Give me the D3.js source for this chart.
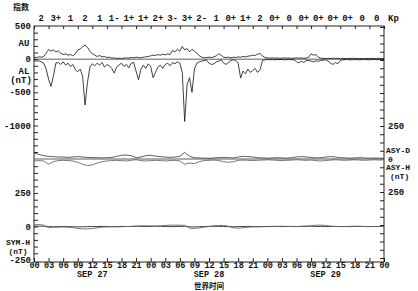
<!DOCTYPE html>
<html>
<head>
<meta charset="utf-8">
<script src="https://cdn.jsdelivr.net/npm/d3@7"></script>
<style>
body { margin: 0; background: #fff; }
text { font-family: "Liberation Mono", "DejaVu Sans Mono", monospace; font-weight: bold; fill: #111; }
.cjk { font-family: "Noto Sans CJK SC", sans-serif; }
</style>
</head>
<body>
<div id="chart"></div>
<script>
// Kp index per 3 hours, Sep 27 00UT .. Sep 30 00UT
var kp = ["2","3+","1","2","1","1-","1+","1+","2+","3-","3+","2-","1","0+","1+","2","0+","0","0+","0+","0+","0+","0","0"];

// AU / AL every 30 min (nT)
var au = [30,25,35,30,40,90,145,120,140,110,125,90,70,80,60,70,50,80,140,150,190,210,180,120,
  80,60,40,55,35,40,25,30,15,20,10,15,10,15,20,15,25,20,30,25,20,30,35,40,
  50,60,55,70,60,75,65,80,70,130,110,150,120,190,140,160,110,150,120,90,50,30,20,25,
  30,25,35,50,80,60,30,25,30,20,30,25,35,30,40,35,45,50,60,55,75,85,50,25,
  20,15,20,15,18,12,15,20,15,18,12,15,20,15,18,15,15,30,80,60,70,30,15,12,
  10,12,10,15,10,12,10,8,10,12,10,15,10,12,10,8,10,12,10,12,10,10,12,10,10];
var al = [-20,-30,-25,-40,-60,-150,-300,-410,-250,-60,-50,-80,-40,-90,-60,-110,-80,-160,-190,-150,-260,-690,-350,-120,
  -70,-100,-60,-90,-50,-120,-80,-100,-140,-210,-120,-90,-60,-110,-80,-130,-60,-50,-180,-310,-150,-90,-140,-70,
  -110,-280,-200,-120,-90,-140,-80,-60,-100,-50,-70,-40,-60,-200,-940,-380,-280,-500,-150,-60,-40,-30,-20,-15,
  -60,-80,-70,-40,-30,-10,-60,-80,-50,-20,-10,-20,-60,-285,-180,-220,-150,-200,-170,-140,-200,-160,-20,-10,
  -5,-8,-5,-10,-6,-8,-5,-10,-8,-5,-10,-8,-40,-55,-30,-50,-20,-20,-30,-40,-25,-30,-20,-15,
  -10,-30,-60,-80,-50,-70,-20,-10,-8,-5,-10,-8,-5,-8,-10,-6,-5,-8,-10,-6,-5,-8,-6,-5,-5];

// ASY-D / ASY-H hourly (nT)
var asyD = [45,35,25,20,18,15,15,12,15,18,15,12,10,10,8,10,12,20,28,30,25,10,15,25,
  28,22,18,15,12,15,20,50,20,10,8,6,5,8,10,12,10,8,15,20,18,15,10,8,
  6,8,10,8,6,10,15,18,15,12,8,10,14,18,15,10,8,6,8,10,8,6,8,6,5];
var asyH = [15,12,15,40,20,12,10,12,15,25,40,50,45,30,20,15,12,10,12,15,10,5,12,15,
  12,10,12,15,12,10,15,40,30,35,20,12,10,8,12,20,25,20,10,8,10,12,10,8,
  6,8,10,12,10,8,6,8,10,8,12,15,12,8,6,8,10,8,6,8,10,8,6,8,6];

// SYM-H and SYM-D hourly (nT)
var symH = [12,15,10,-10,-5,-5,-3,-5,-8,-15,-18,-18,-15,-10,-5,-3,-2,-3,-2,0,0,2,5,5,
  4,3,5,8,10,10,10,8,-12,-15,-10,-5,0,5,8,8,2,-10,-12,-10,-5,-3,-2,-2,
  -1,0,1,2,1,0,-1,2,3,5,10,10,8,3,0,-1,0,1,2,1,0,-1,0,0,0];
var symD = [3,2,2,0,-2,-1,0,-1,-2,-3,-2,-1,0,0,1,0,-1,0,1,0,1,2,1,0,
  1,2,1,0,-1,0,1,2,-2,-3,-2,0,1,2,1,0,-1,-2,-1,0,1,0,-1,0,
  0,1,0,-1,0,1,0,0,1,2,1,0,-1,0,1,0,0,-1,0,1,0,0,0,0,0];

var hourTicks = d3.range(0, 73, 3);
var dayLabels = ["SEP 27", "SEP 28", "SEP 29"];

var W = 418, H = 291;
var pL = 34, pR = 384, pT = 26, pB = 262;

var svg = d3.select("#chart").append("svg")
  .attr("width", W).attr("height", H);

var x = d3.scaleLinear().domain([0, 72]).range([pL, pR]);
var yAE = d3.scaleLinear().domain([500, -1000]).range([pT, 125.5]);
var yAsyD = d3.scaleLinear().domain([0, 250]).range([159, 126]);
var yAsyH = d3.scaleLinear().domain([0, 250]).range([159, 192]);
var ySym = d3.scaleLinear().domain([250, -250]).range([193, 260]);

// frame
svg.append("rect")
  .attr("x", pL).attr("y", pT)
  .attr("width", pR - pL).attr("height", pB - pT)
  .attr("fill", "none").attr("stroke", "#222").attr("stroke-width", 1);

// bottom time axis
var xb = svg.append("g").attr("transform", "translate(0," + pB + ")")
  .call(d3.axisBottom(x).tickValues(hourTicks).tickSizeInner(-4).tickSizeOuter(0)
    .tickPadding(0)
    .tickFormat(function(h) { return d3.format("02d")(h % 24); }));
xb.select(".domain").remove();
xb.selectAll("line").attr("stroke", "#222");
xb.selectAll("text").attr("font-size", null).attr("font-family", null)
  .style("font-size", "8.5px").style("font-weight", "bold");

// top Kp axis
var xt = svg.append("g").attr("transform", "translate(0," + pT + ")")
  .call(d3.axisTop(x).tickValues(hourTicks).tickSizeInner(-3).tickSizeOuter(0).tickFormat(""));
xt.select(".domain").remove();
xt.selectAll("line").attr("stroke", "#222");

svg.selectAll(".kp").data(kp).enter().append("text")
  .attr("class", "kp")
  .attr("x", function(d, i) { return x(i * 3 + 1.5); })
  .attr("y", 21)
  .attr("text-anchor", "middle")
  .style("font-size", "9px")
  .text(function(d) { return d; });

svg.append("text").attr("x", 388).attr("y", 21).style("font-size", "9px").text("Kp");
svg.append("text").attr("class", "cjk").attr("x", 13).attr("y", 10)
  .style("font-size", "8px").text("指数");

// left/right ticks
function leftTicks(scale, vals) {
  var g = svg.append("g").attr("transform", "translate(" + pL + ",0)")
    .call(d3.axisLeft(scale).tickValues(vals).tickSizeInner(-4).tickSizeOuter(0).tickFormat(""));
  g.select(".domain").remove();
  g.selectAll("line").attr("stroke", "#222");
}
function rightTicks(scale, vals) {
  var g = svg.append("g").attr("transform", "translate(" + pR + ",0)")
    .call(d3.axisRight(scale).tickValues(vals).tickSizeInner(-4).tickSizeOuter(0).tickFormat(""));
  g.select(".domain").remove();
  g.selectAll("line").attr("stroke", "#222");
}
leftTicks(yAE, d3.range(400, -1500, -100));
leftTicks(ySym, d3.range(450, -250, -50));
rightTicks(yAsyD, d3.range(62.5, 1001, 62.5));
rightTicks(yAsyH, d3.range(62.5, 800, 62.5));

function label(xp, yp, t, anchor, fs) {
  svg.append("text").attr("x", xp).attr("y", yp).attr("dy", "0.35em")
    .attr("text-anchor", anchor || "end").style("font-size", (fs || 9) + "px").text(t);
}
label(31, yAE(500), "500");
label(24, 43, "AU", "middle");
label(31, yAE(0), "0");
label(24, 71, "AL", "middle");
label(21, 80, "(nT)", "middle");
label(31, yAE(-500), "-500");
label(31, yAE(-1000), "-1000");
label(31, ySym(250), "250");
label(31, ySym(0), "0");
label(18, 242, "SYM-H", "middle", 8);
label(18, 251, "(nT)", "middle", 8);
label(31, ySym(-250), "-250");

label(388, yAsyD(250), "250", "start");
label(386, 150, "ASY-D", "start", 8);
label(388, yAsyD(0), "0", "start", 8);
label(386, 167.5, "ASY-H", "start", 8);
label(390, 176, "(nT)", "start", 8);
label(388, yAsyH(250), "250", "start");

// date labels and x title
svg.selectAll(".day").data(dayLabels).enter().append("text")
  .attr("x", function(d, i) { return x(12 + i * 24); })
  .attr("y", 277)
  .attr("text-anchor", "middle")
  .style("font-size", "8.5px")
  .text(function(d) { return d; });
svg.append("text").attr("class", "cjk").attr("x", x(36)).attr("y", 289)
  .attr("text-anchor", "middle").style("font-size", "7.5px").text("世界时间");

// data lines
function draw(vals, step, yScale, color, sw) {
  var line = d3.line()
    .x(function(d, i) { return x(i * step); })
    .y(function(d) { return yScale(d); });
  svg.append("path").datum(vals)
    .attr("d", line).attr("fill", "none")
    .attr("stroke", color).attr("stroke-width", sw || 0.8);
}
function zero(yp) {
  svg.append("line").attr("x1", pL).attr("x2", pR)
    .attr("y1", yp).attr("y2", yp).attr("stroke", "#333").attr("stroke-width", 0.8);
}
zero(yAE(0));
draw(au, 0.5, yAE, "#111", 0.8);
draw(al, 0.5, yAE, "#111", 0.8);

zero(yAsyD(0));
draw(asyD, 1, yAsyD, "#333", 0.8);
draw(asyH, 1, yAsyH, "#555", 0.8);

draw(symD, 1, ySym, "#111", 0.8);
draw(symH, 1, ySym, "#666", 0.9);
</script>
</body>
</html>
